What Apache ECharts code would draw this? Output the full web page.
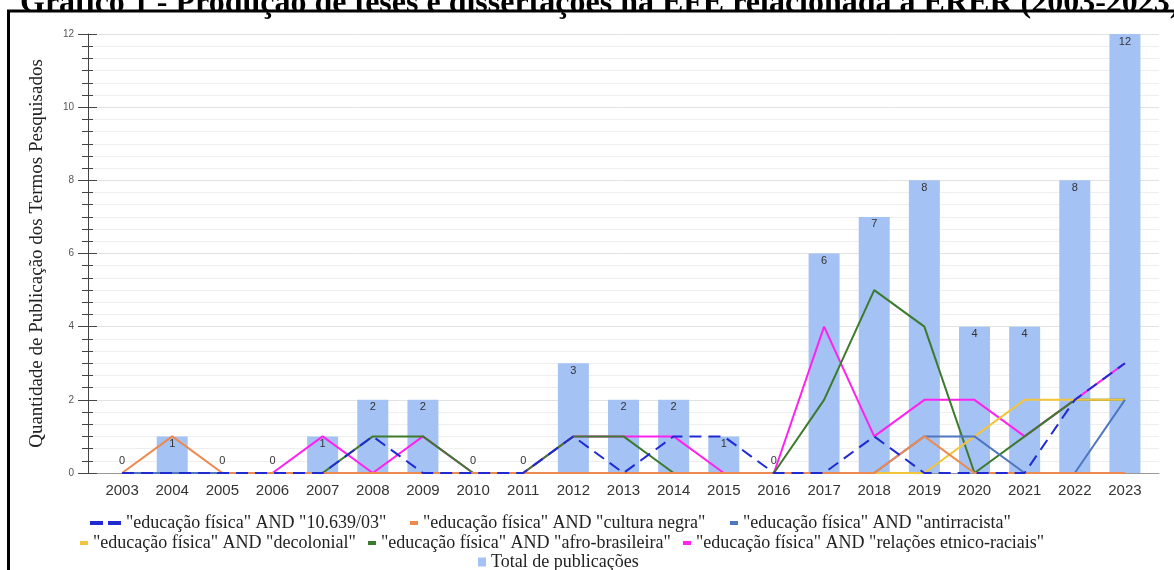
<!DOCTYPE html>
<html>
<head>
<meta charset="utf-8">
<script src="https://cdn.jsdelivr.net/npm/echarts@6/dist/echarts.min.js"></script>
<style>
html,body{margin:0;padding:0;background:#fff;}
#chart{width:1174px;height:570px;}
</style>
</head>
<body>
<div id="chart"></div>
<script>
const years = ['2003','2004','2005','2006','2007','2008','2009','2010','2011','2012','2013','2014','2015','2016','2017','2018','2019','2020','2021','2022','2023'];
const lei10639 =      [0,0,0,0,0,1,0,0,0,1,0,1,1,0,0,1,0,0,0,2,3];
const culturaNegra =  [0,1,0,0,0,0,0,0,0,0,0,0,0,0,0,0,1,0,0,0,0];
const antirracista =  [0,0,0,0,0,0,0,0,0,0,0,0,0,0,0,0,1,1,0,0,2];
const decolonial =    [0,0,0,0,0,0,0,0,0,0,0,0,0,0,0,0,0,1,2,2,2];
const afroBrasileira =[0,0,0,0,0,1,1,0,0,1,1,0,0,0,2,5,4,0,1,2,2];
const relacoes =      [0,0,0,0,1,0,1,0,0,1,1,1,0,0,4,1,2,2,1,2,3];
const totalPub =      [0,1,0,0,1,2,2,0,0,3,2,2,1,0,6,7,8,4,4,8,12];

const names = [
  '"educação física" AND "10.639/03"',
  '"educação física" AND "cultura negra"',
  '"educação física" AND "antirracista"',
  '"educação física" AND "decolonial"',
  '"educação física" AND "afro-brasileira"',
  '"educação física" AND "relações etnico-raciais"',
  'Total de publicações'
];
const colors = ['#1f2bd1','#ee8a50','#4f77c0','#f2c53d','#3d7a2e','#ff22ee','#a4c2f4'];
const lineData = [lei10639, culturaNegra, antirracista, decolonial, afroBrasileira, relacoes];
const lineZ = [8, 7, 6, 5, 4, 3];

const chart = echarts.init(document.getElementById('chart'));
const serif = '"Liberation Serif", "Times New Roman", serif';
const sans = '"Liberation Sans", Arial, sans-serif';
const legendText = {fontFamily: serif, fontSize: 18, color: '#222'};

const series = lineData.map((d, i) => ({
  name: names[i], type: 'line', data: d, xAxisIndex: 0, yAxisIndex: 0,
  symbol: 'none', z: lineZ[i],
  lineStyle: {color: colors[i], width: 2, type: i === 0 ? [12, 7] : 'solid'},
  itemStyle: {color: colors[i]}
}));
series.push({
  name: names[6], type: 'bar', xAxisIndex: 0, yAxisIndex: 0, z: 1,
  barWidth: 31,
  itemStyle: {color: colors[6]},
  data: totalPub.map(v => v === 0 ? {value: v, label: {position: 'top', distance: 7}} : v),
  label: {show: true, position: 'insideTop', distance: 2, color: '#333', fontSize: 11, fontFamily: sans}
});

function lg(data, left, top, opts) {
  return Object.assign({data: data, left: left, top: top, orient: 'horizontal', itemGap: 12,
    textStyle: legendText, itemWidth: 8, itemHeight: 4, icon: 'rect', selectedMode: false, padding: 0}, opts || {});
}

chart.setOption({
  backgroundColor: '#fff',
  animation: false,
  grid: [
    {left: 97, right: 24, top: 34, bottom: 97},
    {left: 88, right: 15, top: 34, bottom: 97},
    {left: 88, right: 15, top: 34, bottom: 97}
  ],
  xAxis: [
    {gridIndex: 0, type: 'category', data: years, boundaryGap: true,
     axisLine: {show: false}, axisTick: {show: false},
     axisLabel: {color: '#333', fontSize: 15, margin: 10, fontFamily: sans, interval: 0}},
    {gridIndex: 1, type: 'value', min: 0, max: 1,
     axisLine: {show: true, lineStyle: {color: '#999'}}, axisTick: {show: false},
     axisLabel: {show: false}, splitLine: {show: false}},
    {gridIndex: 2, type: 'value', min: 0, max: 1, show: false}
  ],
  yAxis: [
    {gridIndex: 0, type: 'value', min: 0, max: 12, show: false},
    {gridIndex: 1, type: 'value', min: 0, max: 12, interval: 2, position: 'left',
     axisLine: {show: true, lineStyle: {color: '#444'}},
     axisTick: {show: true, length: 10, lineStyle: {color: '#444'}},
     minorTick: {show: true, splitNumber: 6, length: 6, lineStyle: {color: '#444'}},
     splitLine: {show: true, lineStyle: {color: '#e2e2e2'}},
     minorSplitLine: {show: true, lineStyle: {color: '#eeeeee'}},
     axisLabel: {fontSize: 10, color: '#555', margin: 14, fontFamily: sans},
     name: 'Quantidade de Publicação dos Termos Pesquisados', nameLocation: 'middle', nameGap: 41,
     nameTextStyle: {fontFamily: serif, fontSize: 19, color: '#222'}},
    {gridIndex: 2, type: 'value', min: 0, max: 12, interval: 2, position: 'left',
     axisLine: {show: false},
     axisTick: {show: true, inside: true, length: 9, lineStyle: {color: '#444'}},
     minorTick: {show: true, splitNumber: 6, length: 5, lineStyle: {color: '#444'}},
     splitLine: {show: false}, axisLabel: {show: false}}
  ],
  legend: [
    lg([{name: names[0], icon: 'path://M0,0 H13 V4 H0 Z M18,0 H31 V4 H18 Z'}], 90, 514, {itemWidth: 31, itemHeight: 4}),
    lg([names[1]], 410, 514),
    lg([names[2]], 730, 514),
    lg([names[3]], 80, 534),
    lg([names[4]], 368, 534),
    lg([names[5]], 683, 534),
    lg([names[6]], 478, 553, {itemWidth: 8, itemHeight: 9})
  ],
  graphic: [
    {type: 'text', x: 20, y: 20, silent: true,
     style: {text: 'Gráfico 1 - Produção de teses e dissertações na EFE relacionada à ERER (2003-2023)',
             font: 'bold 32px "Liberation Serif"', fill: '#000', verticalAlign: 'bottom'}},
    {type: 'rect', silent: true, shape: {x: 8.5, y: 11, width: 1300, height: 700},
     style: {fill: 'none', stroke: '#000', lineWidth: 3}}
  ],
  series: series
});
</script>
</body>
</html>
